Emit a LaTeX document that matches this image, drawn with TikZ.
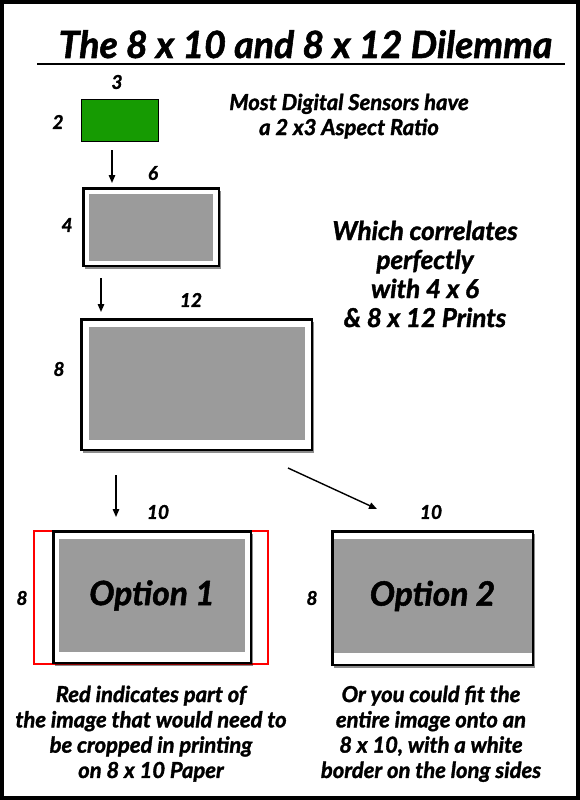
\documentclass[tikz,border=0pt]{standalone}
\usepackage{fontspec}
\newfontfamily\myf{Lato}[BoldItalicFeatures={FakeBold=1.5}]
\usetikzlibrary{arrows.meta,shadows}
\definecolor{photogray}{RGB}{155,155,155}
\definecolor{sensorgreen}{RGB}{22,155,2}
\tikzset{
  bi/.style={font=\myf\bfseries\itshape\fontsize{#1}{#1}\selectfont, inner sep=0pt},
  lbl/.style={font=\myf\bfseries\itshape\fontsize{19}{22}\selectfont, inner sep=0pt},
  printbox/.style={draw=black, line width=2.5pt, fill=white, inner sep=0pt,
    drop shadow={shadow xshift=2pt, shadow yshift=-3pt, opacity=0.45, fill=black}},
  photo/.style={fill=photogray, draw=none, inner sep=0pt},
  arr/.style={line width=1.4pt, -{Triangle[length=8pt,width=6.5pt]}},
  note/.style={align=center, inner sep=0pt, anchor=north},
}
\begin{document}
\begin{tikzpicture}[x=1pt,y=-1pt]
\useasboundingbox (0,0) rectangle (580,800);
\node[draw, line width=4pt, minimum width=576pt, minimum height=796pt, inner sep=0pt] (frame) at (290,400) {};
% title
\node[bi=37.5, anchor=base] (title) at (305.5,58) {The 8 x 10 and 8 x 12 Dilemma};
\coordinate (ulA) at (37,64);
\coordinate (ulB) at (565,64);
\draw[line width=2.5pt] (ulA) -- (ulB);
% sensor
\node[draw=black, line width=1.3pt, fill=sensorgreen, minimum width=77pt, minimum height=42pt, inner sep=0pt] (green) at (120,120.5) {};
\node[lbl] (g3) at (117,82) {3};
\node[lbl] (g2) at (58,122) {2};
\node[note, font=\myf\bfseries\itshape\fontsize{22}{25}\selectfont] (sensortxt) at (349,93.5) {Most Digital Sensors have\\a 2 x3 Aspect Ratio};
% 4x6
\node[printbox, minimum width=135.5pt, minimum height=77.5pt] (p46) at (151,227) {};
\node[photo, minimum width=124pt, minimum height=67pt] (p46in) at (151,227.5) {};
\node[lbl] (l6) at (153,173) {6};
\node[lbl] (l4) at (67,225) {4};
% text right
\node[note, font=\myf\bfseries\itshape\fontsize{26}{29}\selectfont] (whichtxt) at (425,220.5) {Which correlates\\perfectly\\with 4 x 6\\\& 8 x 12 Prints};
% 8x12
\node[printbox, minimum width=230.5pt, minimum height=130.5pt] (p812) at (196.5,384.5) {};
\node[photo, minimum width=216pt, minimum height=113pt] (p812in) at (197,383.5) {};
\node[lbl] (l12) at (191,300) {12};
\node[lbl] (l8a) at (59,369) {8};
% option 1
\node[draw=red, line width=2.2pt, minimum width=234pt, minimum height=133pt, inner sep=0pt] (crop) at (151,597.5) {};
\node[printbox, minimum width=197.5pt, minimum height=131.5pt] (opt1) at (152,597) {};
\node[photo, minimum width=186pt, minimum height=113pt, font=\myf\bfseries\itshape\fontsize{33.5}{33.5}\selectfont] (opt1in) at (152,595.5) {Option 1};
\node[lbl] (l10a) at (158,512) {10};
\node[lbl] (l8b) at (22,598) {8};
% option 2
\node[printbox, minimum width=200.5pt, minimum height=133.5pt] (opt2) at (432.5,598) {};
\node[photo, minimum width=198pt, minimum height=114pt, font=\myf\bfseries\itshape\fontsize{33.5}{33.5}\selectfont] (opt2in) at (432.5,596) {Option 2};
\node[lbl] (l10b) at (431,512) {10};
\node[lbl] (l8c) at (312,598) {8};
% arrows
\draw[arr] ([xshift=-8pt,yshift=-8pt]green.south) -- ([xshift=-39pt,yshift=4pt]p46.north);
\draw[arr] ([xshift=-50pt,yshift=-11pt]p46.south) -- ([xshift=-95.5pt,yshift=6pt]p812.north);
\draw[arr] ([xshift=-80.5pt,yshift=-24pt]p812.south) -- ([xshift=-36pt,yshift=13pt]opt1.north);
\draw[arr] ([xshift=-25pt,yshift=-17pt]p812.south east) -- ([xshift=46pt,yshift=21pt]opt2.north west);
% bottom notes
\node[note, font=\myf\bfseries\itshape\fontsize{22}{25.3}\selectfont] (leftnote) at (151,685.5) {Red indicates part of\\the image that would need to\\be cropped in printing\\on 8 x 10 Paper};
\node[note, font=\myf\bfseries\itshape\fontsize{22}{25.3}\selectfont] (rightnote) at (431,685.5) {Or you could fit the\\entire image onto an\\8 x 10, with a white\\border on the long sides};
\end{tikzpicture}
\end{document}
